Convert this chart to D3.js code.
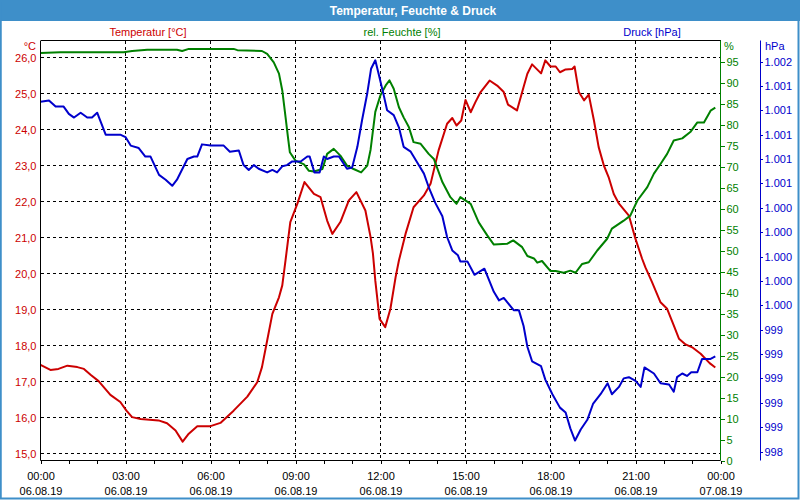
<!DOCTYPE html>
<html><head><meta charset="utf-8">
<script src="https://cdn.jsdelivr.net/npm/d3@7"></script>
<style>body{margin:0;background:#fff}svg{display:block}</style>
</head><body>
<svg id="c" width="800" height="500"></svg>
<script>
const chartTitle = "Temperatur, Feuchte & Druck";
const seriesNames = ["Temperatur [°C]", "rel. Feuchte [%]", "Druck [hPa]"];
const unitLabels = ["°C", "%", "hPa"];
const tempTicks = [15,16,17,18,19,20,21,22,23,24,25,26];
const humTicks = [0,5,10,15,20,25,30,35,40,45,50,55,60,65,70,75,80,85,90,95];
const pressTicks = [998.4,998.6,998.8,999.0,999.2,999.4,999.6,999.8,1000.0,1000.2,1000.4,1000.6,1000.8,1001.0,1001.2,1001.4,1001.6];
const timeTickHours = [0,3,6,9,12,15,18,21,24];

const tempData = [["00:00",17.46],["00:21",17.32],["00:38",17.35],["00:57",17.44],["01:18",17.40],["01:32",17.35],["01:46",17.19],["02:03",17.01],["02:28",16.63],["02:49",16.43],["03:02",16.19],["03:14",16.01],["03:32",15.96],["04:10",15.92],["04:28",15.84],["04:46",15.64],["05:01",15.33],["05:14",15.55],["05:32",15.76],["06:00",15.76],["06:21",15.85],["06:49",16.19],["07:18",16.58],["07:39",16.98],["07:49",17.40],["08:00",18.14],["08:11",18.88],["08:25",19.34],["08:32",19.67],["08:39",20.38],["08:49",21.43],["09:04",21.94],["09:19",22.54],["09:39",22.21],["09:53",22.12],["10:07",21.47],["10:18",21.10],["10:35",21.43],["10:53",22.03],["11:09",22.26],["11:28",21.75],["11:39",21.01],["11:44",20.55],["11:49",19.80],["11:58",18.74],["12:10",18.51],["12:21",19.02],["12:32",19.90],["12:39",20.36],["12:53",21.10],["13:10",21.84],["13:32",22.17],["13:46",22.49],["14:03",23.42],["14:21",24.16],["14:32",24.32],["14:41",24.11],["14:51",24.25],["15:00",24.82],["15:11",24.48],["15:21",24.76],["15:32",25.04],["15:51",25.36],["16:07",25.22],["16:21",25.04],["16:30",24.69],["16:49",24.53],["17:03",25.18],["17:11",25.55],["17:21",25.81],["17:40",25.56],["17:49",25.92],["18:00",25.75],["18:11",25.75],["18:20",25.59],["18:32",25.67],["18:46",25.68],["18:51",25.75],["19:00",25.04],["19:11",24.81],["19:21",24.97],["19:32",24.25],["19:42",23.51],["19:53",23.00],["20:03",22.68],["20:14",22.21],["20:25",21.94],["20:46",21.61],["21:00",20.96],["21:14",20.41],["21:21",20.17],["21:35",19.76],["21:53",19.20],["22:07",19.02],["22:21",18.56],["22:32",18.19],["22:46",18.03],["23:00",17.95],["23:18",17.77],["23:37",17.51],["23:49",17.39]];

const humData = [["00:00",97.0],["00:42",97.2],["02:56",97.2],["03:14",97.5],["03:46",97.8],["04:49",97.8],["05:00",97.5],["05:14",98.0],["06:49",98.0],["06:57",97.7],["07:49",97.5],["08:00",96.8],["08:14",94.8],["08:25",92.1],["08:32",88.1],["08:39",81.7],["08:44",77.0],["08:48",73.4],["09:00",71.4],["09:18",70.5],["09:28",69.0],["09:39",68.8],["09:57",69.4],["10:07",73.0],["10:21",74.2],["10:35",72.6],["10:49",70.2],["11:03",69.4],["11:19",68.6],["11:32",70.2],["11:39",74.0],["11:49",83.0],["12:00",87.0],["12:11",89.3],["12:19",90.5],["12:28",88.5],["12:39",84.1],["12:49",81.7],["13:00",79.4],["13:10",75.8],["13:25",75.4],["13:42",73.0],["13:53",71.8],["14:11",66.3],["14:28",62.7],["14:41",61.1],["14:49",62.7],["15:11",61.1],["15:28",56.7],["15:46",53.6],["16:00",51.4],["16:28",51.6],["16:41",52.4],["17:00",50.8],["17:11",48.7],["17:25",48.1],["17:32",47.1],["17:42",47.5],["18:00",45.1],["18:11",45.1],["18:28",44.7],["18:42",45.2],["18:53",44.7],["19:07",46.8],["19:21",47.2],["19:39",50.0],["20:00",52.8],["20:10",55.2],["20:35",57.1],["20:49",58.3],["21:04",61.9],["21:25",65.1],["21:39",68.3],["21:53",70.6],["22:07",73.0],["22:21",76.2],["22:39",76.7],["22:56",78.2],["23:11",80.5],["23:25",80.5],["23:39",83.3],["23:49",84.0]];

const pressData = [["00:00",1001.27],["00:18",1001.28],["00:32",1001.23],["00:49",1001.23],["01:00",1001.17],["01:11",1001.14],["01:25",1001.18],["01:39",1001.14],["01:49",1001.14],["02:00",1001.18],["02:18",1001.00],["02:49",1001.00],["03:00",1000.98],["03:11",1000.91],["03:28",1000.89],["03:42",1000.82],["03:53",1000.82],["04:11",1000.67],["04:25",1000.63],["04:39",1000.58],["04:49",1000.63],["05:11",1000.80],["05:25",1000.82],["05:32",1000.82],["05:42",1000.92],["06:00",1000.91],["06:28",1000.91],["06:41",1000.86],["07:00",1000.87],["07:10",1000.75],["07:21",1000.71],["07:32",1000.75],["07:42",1000.72],["08:00",1000.69],["08:11",1000.71],["08:21",1000.69],["08:32",1000.74],["08:42",1000.75],["08:53",1000.78],["09:11",1000.78],["09:25",1000.82],["09:30",1000.82],["09:40",1000.69],["09:51",1000.69],["10:00",1000.82],["10:07",1000.80],["10:21",1000.82],["10:32",1000.82],["10:49",1000.72],["11:00",1000.73],["11:11",1000.90],["11:21",1001.12],["11:32",1001.34],["11:40",1001.54],["11:49",1001.61],["11:56",1001.50],["12:07",1001.32],["12:14",1001.20],["12:28",1001.16],["12:39",1001.06],["12:49",1000.90],["13:04",1000.86],["13:21",1000.75],["13:32",1000.68],["13:42",1000.57],["13:56",1000.44],["14:11",1000.33],["14:21",1000.16],["14:32",1000.05],["14:44",1000.01],["14:49",999.96],["15:04",999.96],["15:19",999.85],["15:40",999.90],["16:00",999.71],["16:11",999.64],["16:21",999.66],["16:42",999.56],["16:53",999.56],["17:03",999.43],["17:11",999.26],["17:21",999.14],["17:40",999.10],["17:49",998.99],["18:04",998.87],["18:20",998.76],["18:32",998.72],["18:42",998.59],["18:52",998.49],["19:04",998.58],["19:18",998.66],["19:30",998.79],["19:46",998.87],["20:01",998.96],["20:10",998.87],["20:25",998.93],["20:35",999.00],["20:46",999.01],["21:00",998.98],["21:11",998.93],["21:19",999.09],["21:39",999.04],["21:53",998.96],["22:11",998.95],["22:21",998.89],["22:28",999.01],["22:39",999.04],["22:49",999.02],["22:58",999.05],["23:11",999.05],["23:21",999.16],["23:39",999.16],["23:49",999.18]];

const RED = "#cc0000", GREEN = "#008000", BLUE = "#0000cc", FRAME = "#3e8fc9";
const FONT = "'Liberation Sans', Arial, sans-serif";

const de = d3.formatLocale({decimal: ",", thousands: ".", grouping: [3], currency: ["", " €"]});
const fmtTemp = de.format(",.1f");
const fmtPress = de.format(",.0f");
const fmtTime = d3.timeFormat("%H:%M");
const fmtDate = d3.timeFormat("%d.%m.%y");

const day0 = new Date(2019, 7, 6, 0, 0);
const parseT = s => { const [h, m] = s.split(":").map(Number); return new Date(2019, 7, 6, h, m); };
const hourDate = h => new Date(2019, 7, 6, h, 0);

const L = 40.5, R = 720.5, T = 40.5, B = 460.5;
const x = d3.scaleTime().domain([day0, hourDate(24)]).range([L, R]);
const yT = d3.scaleLinear().domain([15, 26]).range([453.5, 57.5]);
const yH = d3.scaleLinear().domain([0, 100]).range([B, T]);
const yP = d3.scaleLinear().domain([998.4, 1001.6]).range([451.5, 61.5]);

const svg = d3.select("#c");
svg.style("font-family", FONT);

svg.append("rect").attr("x", 0).attr("y", 0).attr("width", 800).attr("height", 500).attr("fill", "#fff");
// title bar
svg.append("rect").attr("x", 0).attr("y", 0).attr("width", 800).attr("height", 21).attr("fill", FRAME);
svg.append("text").attr("x", 413).attr("y", 14.5).attr("text-anchor", "middle")
  .attr("fill", "#fff").attr("font-weight", "bold").attr("font-size", 12).text(chartTitle);
// frame
svg.append("rect").attr("x", 0.75).attr("y", 1).attr("width", 797.75).attr("height", 497.5)
  .attr("fill", "none").attr("stroke", FRAME).attr("stroke-width", 2);

// legend labels
const legendColors = [RED, GREEN, BLUE];
const legendX = [148, 402, 652];
seriesNames.forEach((n, i) => {
  svg.append("text").attr("x", legendX[i]).attr("y", 36).attr("text-anchor", "middle")
    .attr("fill", legendColors[i]).attr("font-size", 11).text(n);
});

// grid
const grid = svg.append("g").attr("stroke", "#000").attr("stroke-dasharray", "3,3").attr("shape-rendering", "crispEdges");
grid.selectAll("line.h").data(tempTicks).join("line")
  .attr("x1", L).attr("x2", R).attr("y1", d => yT(d)).attr("y2", d => yT(d));
grid.selectAll("line.v").data(timeTickHours.slice(1, -1)).join("line")
  .attr("x1", d => x(hourDate(d))).attr("x2", d => x(hourDate(d))).attr("y1", T).attr("y2", B);

// lines
const lineGen = ys => d3.line().x(d => x(parseT(d[0]))).y(d => ys(d[1]));
const plot = svg.append("g").attr("fill", "none").attr("stroke-width", 2).attr("stroke-linejoin", "round");
plot.append("path").datum(tempData).attr("stroke", RED).attr("d", lineGen(yT));
plot.append("path").datum(humData).attr("stroke", GREEN).attr("d", lineGen(yH));
plot.append("path").datum(pressData).attr("stroke", BLUE).attr("d", lineGen(yP));

// frame lines of plot
const ax = svg.append("g").attr("shape-rendering", "crispEdges");
ax.append("line").attr("x1", L).attr("x2", R).attr("y1", T).attr("y2", T).attr("stroke", "#000");

// left axis (temperature)
const leftAxis = d3.axisLeft(yT).tickValues(tempTicks).tickFormat(fmtTemp).tickSize(0).tickPadding(4);
const gL = svg.append("g").attr("transform", `translate(${L},0)`).call(leftAxis);
gL.select(".domain").attr("d", `M0,${T}V${B}`).attr("stroke", "#000");
gL.selectAll("text").attr("fill", RED).attr("font-size", 11).attr("font-family", FONT);
svg.append("text").attr("x", 36).attr("y", 50).attr("text-anchor", "end").attr("fill", RED).attr("font-size", 11).text(unitLabels[0]);

// right axis (humidity)
const humAxis = d3.axisRight(yH).tickValues(humTicks).tickFormat(d3.format("d")).tickSize(4).tickPadding(2);
const gH = svg.append("g").attr("transform", `translate(${R},0)`).call(humAxis);
gH.select(".domain").attr("d", `M0,${T}V${B}`).attr("stroke", GREEN);
gH.selectAll("line").attr("stroke", GREEN);
gH.selectAll("text").attr("fill", GREEN).attr("font-size", 11).attr("font-family", FONT);
svg.append("text").attr("x", 724).attr("y", 50).attr("fill", GREEN).attr("font-size", 11).text(unitLabels[1]);

// pressure axis
const pAxis = d3.axisRight(yP).tickValues(pressTicks).tickFormat(fmtPress).tickSize(2).tickPadding(2);
const gP = svg.append("g").attr("transform", `translate(760.5,0)`).call(pAxis);
gP.select(".domain").attr("d", `M0,${T}V${B}`).attr("stroke", BLUE);
gP.selectAll("line").attr("stroke", BLUE);
gP.selectAll("text").attr("fill", BLUE).attr("font-size", 11).attr("font-family", FONT);
svg.append("text").attr("x", 765).attr("y", 50).attr("fill", BLUE).attr("font-size", 11).text(unitLabels[2]);

// bottom axis
const minor = d3.range(0, 25).map(hourDate);
const bAxisMinor = d3.axisBottom(x).tickValues(minor).tickFormat("").tickSize(3);
const gBm = svg.append("g").attr("transform", `translate(0,${B})`).call(bAxisMinor);
gBm.select(".domain").attr("d", `M${L},0H${R}`).attr("stroke", "#000");
const bAxis = d3.axisBottom(x).tickValues(timeTickHours.map(hourDate)).tickSize(3).tickFormat("");
const gB = svg.append("g").attr("transform", `translate(0,${B})`).call(bAxis);
gB.select(".domain").remove();
gB.selectAll(".tick").each(function(d) {
  const t = d3.select(this).append("text").attr("fill", "#000").attr("font-size", 11)
    .attr("font-family", FONT).attr("text-anchor", "middle");
  t.append("tspan").attr("x", 0).attr("y", 19).text(fmtTime(d));
  t.append("tspan").attr("x", 0).attr("y", 34).text(fmtDate(d));
});
svg.selectAll(".tick line").attr("shape-rendering", "crispEdges");
</script>
</body></html>
